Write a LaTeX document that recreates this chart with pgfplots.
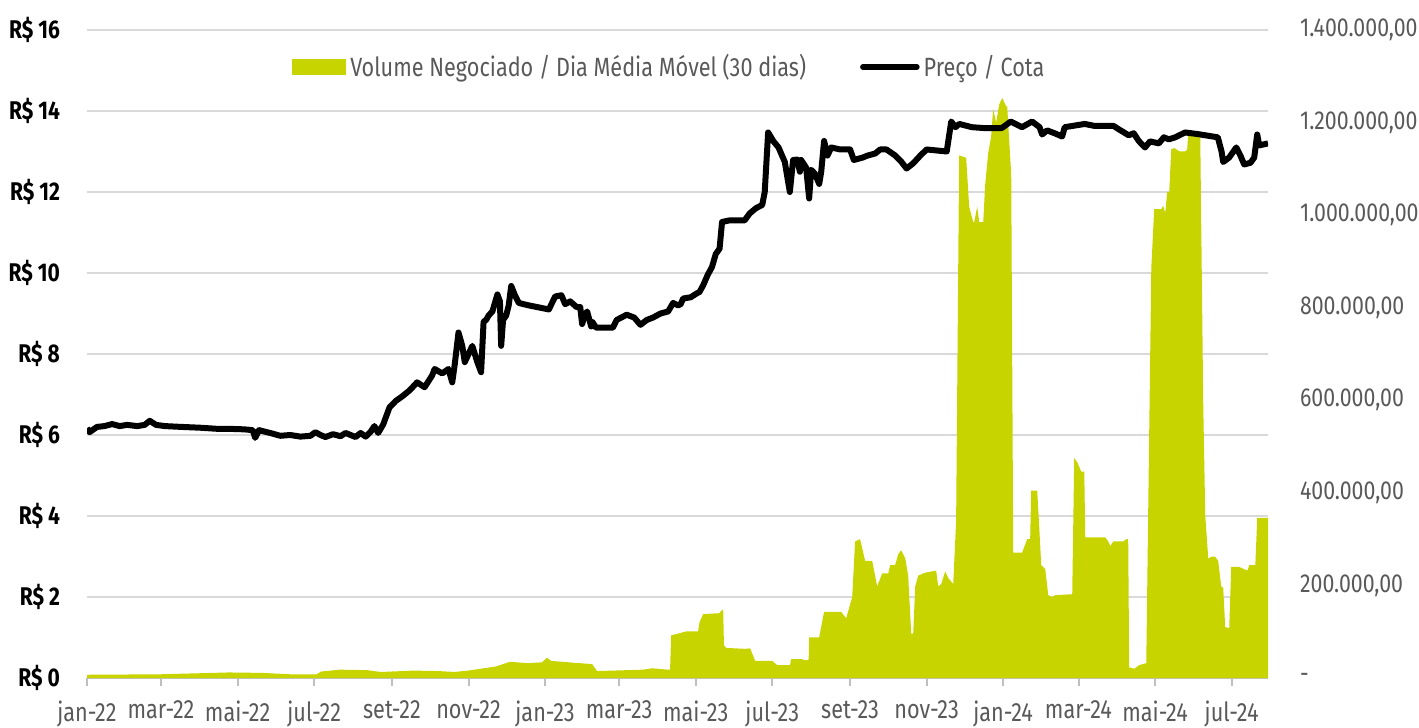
\documentclass[border=0pt]{standalone}
\usepackage{fontspec}
\setmainfont{Fira Sans}[FakeStretch=0.82]
\usepackage{pgfplots}
\pgfplotsset{compat=1.18}
\definecolor{vol}{HTML}{C8D400}
\definecolor{lbl}{HTML}{595959}
\definecolor{grd}{HTML}{D9D9D9}
\definecolor{axl}{HTML}{BFBFBF}
\begin{document}
\begin{tikzpicture}
\pgfplotsset{
  base/.style={width=590.5pt,height=324pt,scale only axis,xmin=0,xmax=941,ymin=0,
    /pgf/number format/assume math mode=true,
    tick label style={font=\fontsize{13.2}{15}\selectfont}},
}
% grid layer (left scale)
\begin{axis}[base, ymax=16,
  axis y line*=left, axis x line=none, xtick=\empty,
  y axis line style={draw=none},
  ytick={0,2,4,6,8,10,12,14,16},
  ytick style={draw=none},
  yticklabel style={opacity=0},
  ymajorgrids, grid style={color=grd, line width=0.75pt},
]
\end{axis}
% volume (right scale)
\begin{axis}[base, name=ax, ymax=1400000,
  axis y line*=right, axis x line*=bottom,
  y axis line style={draw=none},
  x axis line style={-, color=axl, line width=1pt},
  xtick={0,59,120,181,243,304,365,424,485,546,608,669,730,790,851,912},
  xticklabels={jan-22,mar-22,mai-22,jul-22,set-22,nov-22,jan-23,mar-23,mai-23,jul-23,set-23,nov-23,jan-24,mar-24,mai-24,jul-24},
  xtick style={color=axl, line width=1pt},
  tick align=outside, major tick length=4pt,
  ytick={0,200000,400000,600000,800000,1000000,1200000,1400000},
  yticklabels={{-},{200.000,00},{400.000,00},{600.000,00},{800.000,00},{1.000.000,00},{1.200.000,00},{1.400.000,00}},
  ytick style={draw=none},
  xticklabel style={color=lbl, yshift=-4pt},
  yticklabel style={color=lbl, anchor=west, xshift=8.5pt, font=\fontsize{13}{15}\selectfont},
  scaled y ticks=false,
]
\addplot[fill=vol, draw=none] coordinates {
(0,7000) (58,8000) (113,12000) (140,11000) (162,8000) (183,8000) (186.5,14000)
(201.6,18000) (223,17000) (234,13000) (260,16000) (280,15000) (292.5,13000)
(303.6,16000) (326,25000) (337,35000) (351.5,32000) (362.6,34000) (366.6,44000)
(369.8,37000) (388,33000) (402.5,30000) (406.4,15000) (443,18000) (450.3,21000)
(463,18000) (464.6,18000) (465.4,92000) (478,101000) (486.9,101000) (488,120000)
(490.9,138000) (503.7,140000) (506.1,147000) (506.9,147000) (507.5,71000)
(509.2,65000) (524.4,63000) (528.4,64000) (532.4,37000) (545.9,37000)
(549.9,28000) (560.2,28000) (561,41000) (569,41000) (573,38000) (575,40000)
(575.4,88000) (583.4,88000) (587.3,143000) (600.9,143000) (604.9,129000)
(609.7,175000) (612,295000) (616,300000) (620,253000) (625.6,253000)
(629.6,198000) (633.6,226000) (638.4,226000) (640,244000) (643.9,244000)
(646.3,267000) (648.7,276000) (651.9,259000) (654.3,221000) (656.7,96000)
(658.3,96000) (659.9,198000) (662.3,221000) (666.2,226000) (668.6,228000)
(676.6,232000) (678.2,198000) (680.6,203000) (683.8,230000) (686.2,216000)
(690.2,203000) (692.5,340000) (694.9,1129000) (700.5,1124000) (702.9,1018000)
(706.1,985000) (706.9,985000) (709.3,1018000) (710.9,985000) (714.1,985000)
(715.6,1064000) (718,1133000) (720.4,1170000) (722,1229000) (724.4,1200000)
(726.8,1239000) (729.2,1253000) (732.4,1235000) (733.2,1235000) (736.4,1087000)
(738,271000) (745.1,271000) (749.1,300000) (751.5,300000) (752.3,405000)
(757.1,405000) (758.7,327000) (760.3,244000) (763.5,235000) (765.9,179000)
(769,175000) (771.4,179000) (785,181000) (786.6,475000) (789,466000)
(792.2,446000) (794.6,446000) (795.4,304000) (811.3,304000) (813.7,295000)
(815.3,285000) (817.7,295000) (825.7,295000) (828.1,300000) (829.6,300000)
(830.4,23000) (834.4,20000) (838.4,28000) (844,32000) (848,885000)
(850.3,1013000) (855.9,1013000) (857.5,1020000) (859.1,1005000) (860.7,1050000)
(862.3,1050000) (863.9,1142000) (866.3,1145000) (870.3,1138000) (875.1,1138000)
(876.6,1142000) (877.4,1174000) (887,1174000) (889.4,590000) (891,350000)
(893.4,258000) (895.8,262000) (898.9,262000) (901.3,253000) (903.7,198000)
(905.3,195000) (906.9,110000) (910.1,108000) (911.7,240000) (918.1,240000)
(921.3,236000) (924.5,232000) (926.1,244000) (930.9,244000) (932.4,346000)
(941,346000)
} \closedcycle;
\end{axis}
% price (left scale)
\begin{axis}[base, ymax=16,
  axis y line*=left, axis x line=none, xtick=\empty,
  y axis line style={draw=none},
  ytick={0,2,4,6,8,10,12,14,16},
  yticklabels={R\$ 0,R\$ 2,R\$ 4,R\$ 6,R\$ 8,R\$ 10,R\$ 12,R\$ 14,R\$ 16},
  ytick style={draw=none},
  yticklabel style={font=\fontsize{12.8}{14}\selectfont\bfseries, anchor=east, xshift=-10pt},
  legend style={at={(0.494,0.943)}, anchor=center, draw=none, fill=none,
    legend columns=2, font=\fontsize{13.2}{15}\selectfont, text=lbl,
    /tikz/every even column/.append style={column sep=25pt}},
]
\addlegendimage{legend image code/.code={\fill[vol] (0pt,-3.75pt) rectangle (26.5pt,3.75pt);}}
\addlegendentry{Volume Negociado / Dia Média Móvel (30 dias)}
\addplot[black, line width=3pt, line join=round,
  legend image code/.code={\draw[black, line width=2.8pt, line cap=round] (0pt,0pt) -- (27pt,0pt);}]
coordinates {
(0,6.17) (2,6.07) (8,6.2) (14,6.22) (20,6.27) (26,6.22) (32,6.25) (40,6.22)
(46,6.25) (50,6.35) (55,6.25) (62,6.22) (75,6.2) (90,6.18) (105,6.15) (115,6.15)
(125,6.14) (132,6.12) (134,5.93) (137,6.12) (146,6.05) (154,5.98) (162,6.0)
(170,5.96) (178,5.98) (182,6.07) (186,6.0) (190,5.95) (196,6.02) (202,5.97)
(206,6.05) (210,6.0) (214,5.95) (218,6.05) (222,5.96) (226,6.08) (229,6.22)
(232,6.05) (236,6.26) (241,6.68) (246,6.84) (251,6.95) (257,7.1) (263,7.3)
(269,7.18) (275,7.47) (277,7.63) (283,7.52) (288,7.63) (291,7.3) (293,7.74)
(296,8.53) (299,8.2) (301,7.8) (307,8.2) (311,7.8) (314,7.55) (316,8.8)
(318,8.84) (320,8.95) (323,9.05) (327,9.47) (329,9.3) (330,8.2) (331.5,8.84)
(334,8.95) (336,9.2) (338,9.68) (341,9.45) (344,9.26) (352,9.2) (360,9.15)
(368,9.1) (373,9.42) (378,9.45) (381,9.23) (385,9.3) (390,9.16) (393,9.16)
(394.5,8.74) (396.5,8.95) (398.5,9.05) (401.7,8.68) (402.5,8.8) (405.6,8.65)
(419,8.65) (422,8.84) (430,8.97) (436,8.9) (441,8.72) (446,8.84) (451,8.9)
(457,9.0) (463,9.05) (467,9.26) (471,9.2) (473,9.23) (475,9.37) (481,9.4)
(486,9.5) (488,9.53) (491,9.7) (494.5,9.95) (498,10.15) (501,10.47) (504,10.6)
(506,11.26) (512,11.3) (524,11.3) (528,11.47) (533,11.6) (538,11.68) (540,12.0)
(542.7,13.47) (547,13.25) (551,13.1) (556,12.74) (560,12.0) (562.6,12.79)
(566,12.8) (568,12.5) (569,12.79) (573,12.6) (575.4,11.84) (577,12.55)
(580,12.45) (583.4,12.2) (585,12.5) (587.3,13.26) (590,12.9) (593,13.1)
(600,13.05) (608,13.05) (611,12.79) (618,12.85) (622,12.9) (628,12.95)
(632,13.05) (637,13.05) (644,12.9) (649,12.74) (653,12.58) (658,12.7)
(664,12.9) (669,13.05) (685,13.0) (688.6,13.74) (692,13.6) (695,13.68)
(705,13.6) (714,13.58) (729,13.58) (736,13.74) (745,13.6) (753,13.74)
(759,13.6) (761,13.42) (765,13.52) (771,13.45) (777,13.37) (779,13.6)
(785,13.63) (795,13.68) (803,13.63) (810,13.63) (818,13.63) (822,13.55)
(830,13.4) (834,13.45) (838,13.26) (843,13.1) (847,13.25) (854,13.2)
(858,13.35) (862,13.3) (867,13.35) (875,13.47) (885,13.43) (891,13.4)
(901,13.35) (904,13.0) (905.3,12.74) (910,12.85) (915.7,13.1) (919,12.9)
(922,12.68) (927,12.72) (930,12.85) (932.4,13.42) (934,13.15) (941,13.2)
};
\addlegendentry{Preço / Cota}
\end{axis}
\pgfresetboundingbox
\path ([xshift=-43.5pt,yshift=-24.5pt]ax.south west) rectangle ([xshift=75.5pt,yshift=15pt]ax.north east);
\end{tikzpicture}
\end{document}
